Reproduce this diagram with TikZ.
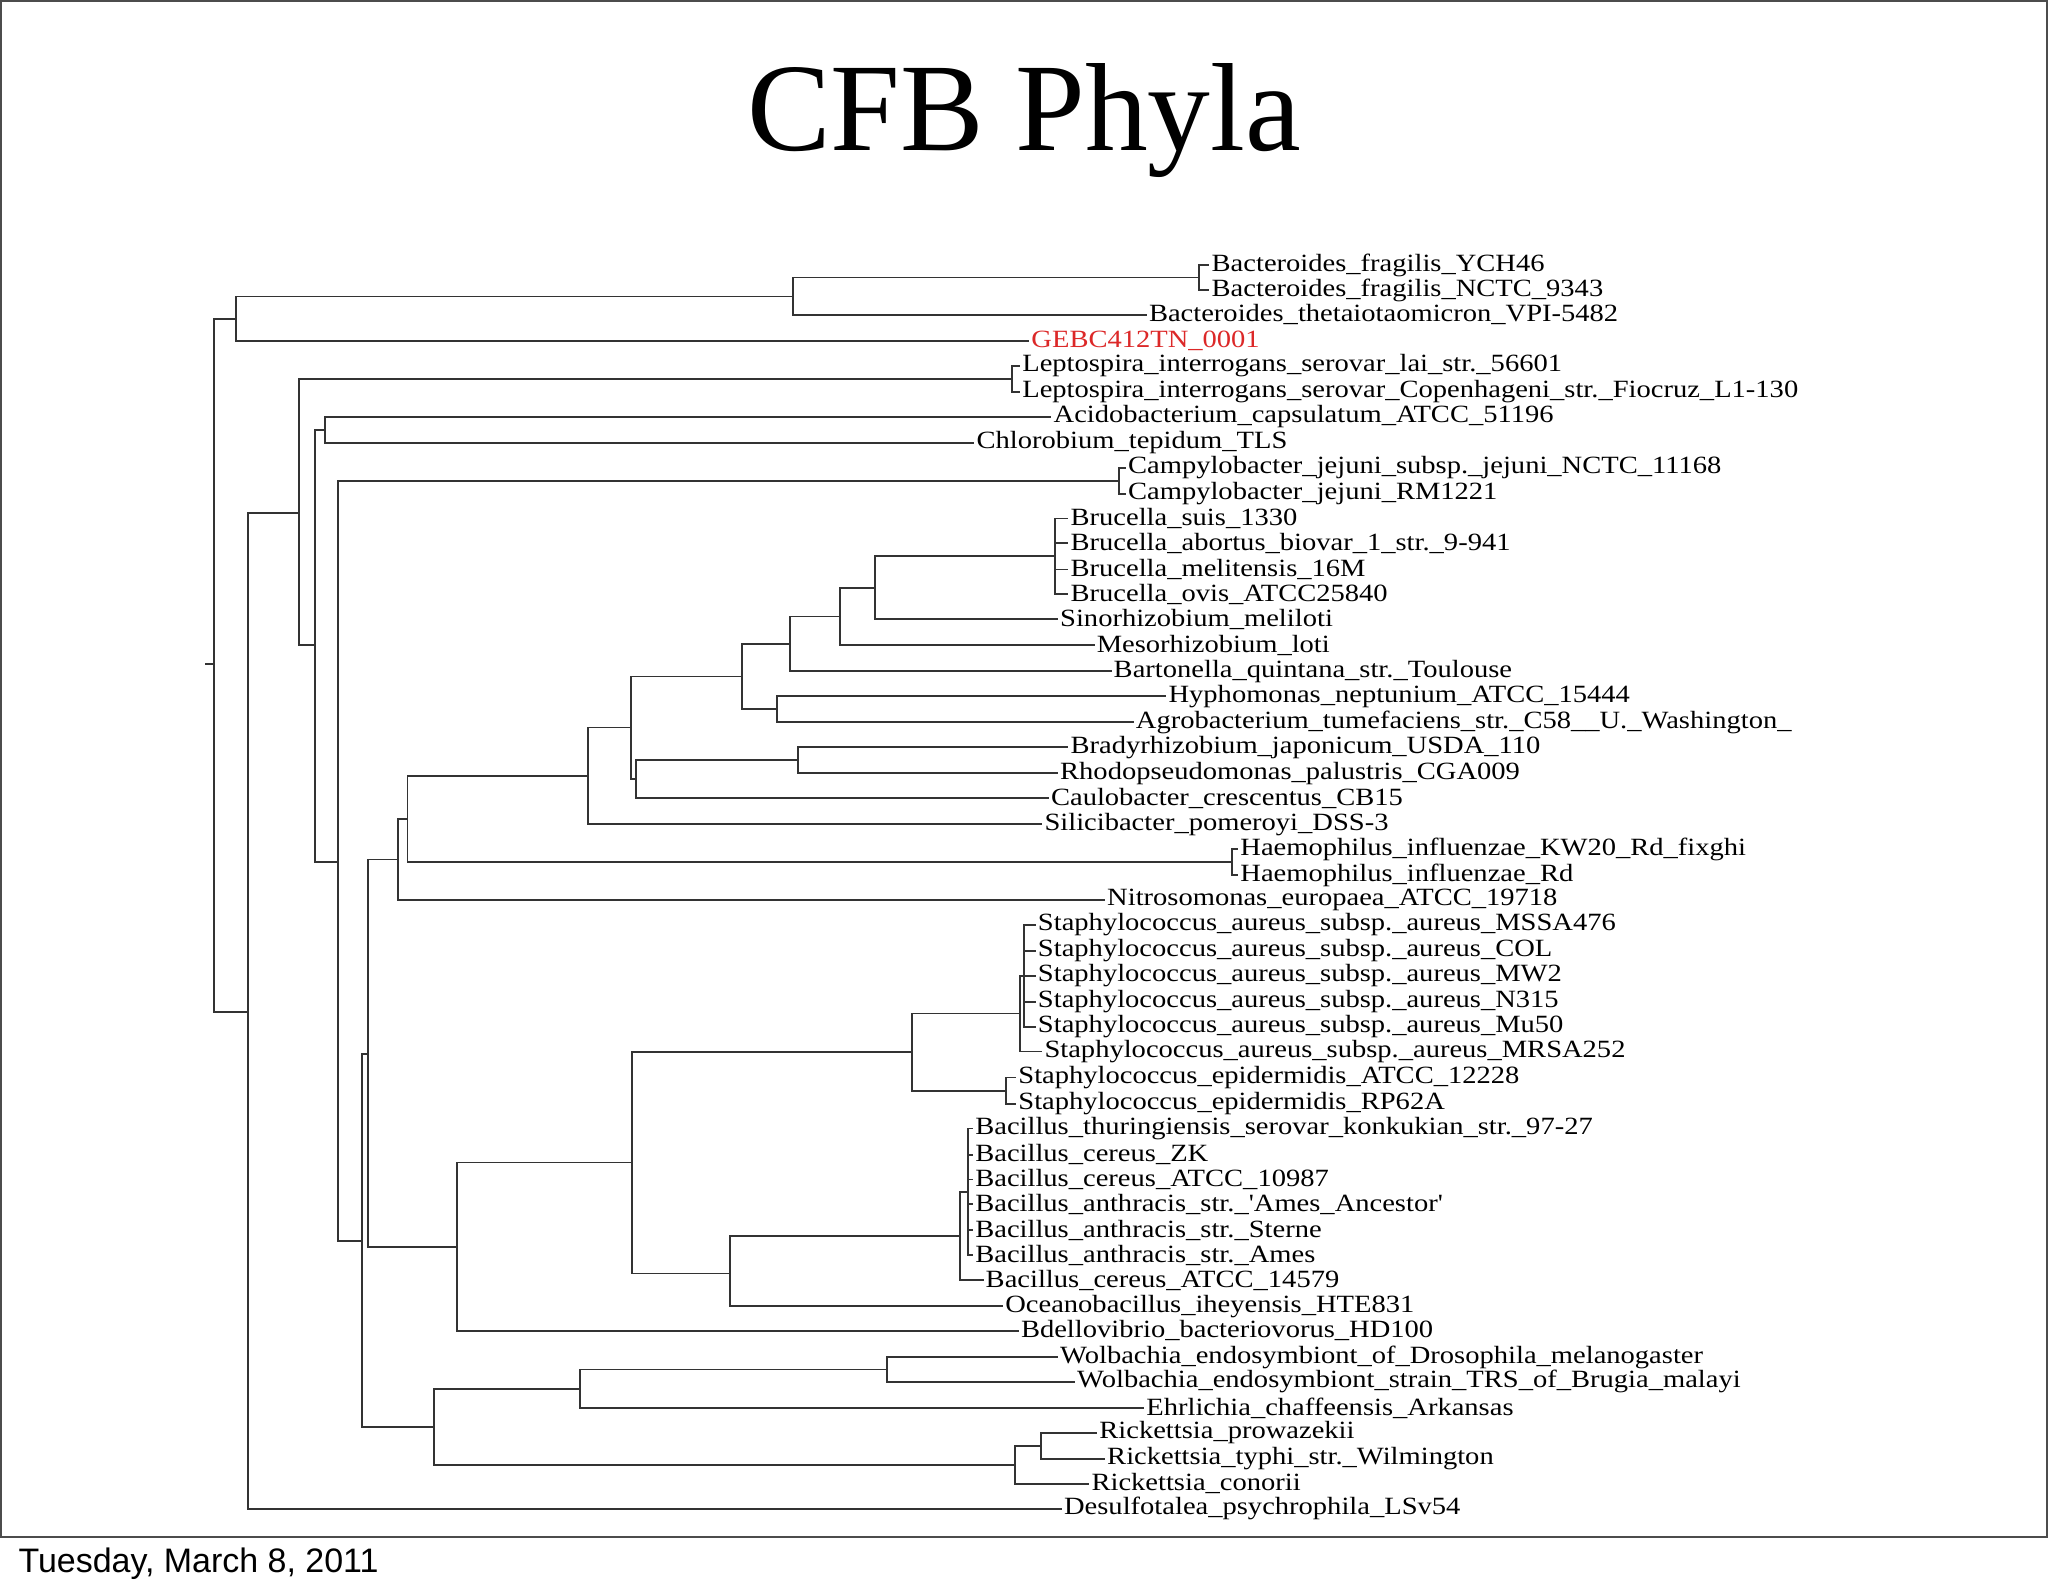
\documentclass[tikz,border=0pt]{standalone}
\usepackage{fontspec}
\setmainfont{Liberation Serif}
\newfontfamily\hel{Liberation Sans}
\newfontfamily\labf[FakeStretch=1.15]{Liberation Serif}
\newcommand{\labfont}{\labf\fontsize{19}{19}\selectfont}
\tikzset{
 lab/.style={anchor=west,inner sep=1.5pt,font=\labfont},
 br/.style={draw=black!80,line width=1.4pt},
}
\begin{document}
\begin{tikzpicture}[x=1pt,y=-1pt]
\useasboundingbox (0,0) rectangle (1568,1220);
\fill[white] (0,0) rectangle (1568,1220);
\draw[black!70,line width=1.5pt] (0.75,0.75) rectangle (1567,1177);
\node[font=\fontsize{96}{96}\selectfont] (title) at (784,92) {CFB Phyla};
\node[anchor=west,font=\hel\fontsize{26}{26}\selectfont,inner sep=0] (date) at (14,1197) {Tuesday, March 8, 2011};

% internal nodes
\coordinate (c164) at (164,508.5);
\coordinate (stub) at (157,508.5);
\coordinate (c181) at (181,244);
\coordinate (c607) at (607,227);
\coordinate (c918) at (918,212.5);
\coordinate (c190) at (190,774.5);
\coordinate (c229) at (229,392.5);
\coordinate (c775) at (775,290);
\coordinate (c241) at (241,494);
\coordinate (c249) at (249,329);
\coordinate (c259) at (259,660);
\coordinate (c857) at (857,368);
\coordinate (c277) at (277,950);
\coordinate (c282) at (282,807);
\coordinate (c305) at (305,658);
\coordinate (c312) at (312,627);
\coordinate (c943) at (943,660);
\coordinate (c450) at (450,594);
\coordinate (c483) at (483,557);
\coordinate (c568) at (568,518);
\coordinate (c605) at (605,493);
\coordinate (c643) at (643,472);
\coordinate (c670) at (670,450);
\coordinate (c808) at (808,426);
\coordinate (c595) at (595,543);
\coordinate (c487) at (487,596.5);
\coordinate (c611) at (611,582);
\coordinate (c350) at (350,954.5);
\coordinate (c484) at (484,890);
\coordinate (c698) at (698,805.5);
\coordinate (c781) at (781,776);
\coordinate (c784) at (784,747);
\coordinate (c770) at (770,835);
\coordinate (c559) at (559,975);
\coordinate (c735) at (735,946);
\coordinate (c741) at (741,912.5);
\coordinate (c332) at (332,1092.5);
\coordinate (c444) at (444,1063.5);
\coordinate (c679) at (679,1048.5);
\coordinate (c777) at (777,1121.5);
\coordinate (c797) at (797,1107);

% leaves
\node[lab] (L1) at (926,203) {Bacteroides\_fragilis\_YCH46};
\node[lab] (L2) at (926,222) {Bacteroides\_fragilis\_NCTC\_9343};
\node[lab] (L3) at (878,241) {Bacteroides\_thetaiotaomicron\_VPI-5482};
\node[lab,text={rgb,255:red,220;green,40;blue,40}] (L4) at (788,261) {GEBC412TN\_0001};
\node[lab] (L5) at (781,280) {Leptospira\_interrogans\_serovar\_lai\_str.\_56601};
\node[lab] (L6) at (781,300) {Leptospira\_interrogans\_serovar\_Copenhageni\_str.\_Fiocruz\_L1-130};
\node[lab] (L7) at (805,319) {Acidobacterium\_capsulatum\_ATCC\_51196};
\node[lab] (L8) at (746,339) {Chlorobium\_tepidum\_TLS};
\node[lab] (L9) at (862,358) {Campylobacter\_jejuni\_subsp.\_jejuni\_NCTC\_11168};
\node[lab] (L10) at (862,378) {Campylobacter\_jejuni\_RM1221};
\node[lab] (L11) at (818,397) {Brucella\_suis\_1330};
\node[lab] (L12) at (818,416) {Brucella\_abortus\_biovar\_1\_str.\_9-941};
\node[lab] (L13) at (818,436) {Brucella\_melitensis\_16M};
\node[lab] (L14) at (818,455) {Brucella\_ovis\_ATCC25840};
\node[lab] (L15) at (810,474) {Sinorhizobium\_meliloti};
\node[lab] (L16) at (838,494) {Mesorhizobium\_loti};
\node[lab] (L17) at (851,514) {Bartonella\_quintana\_str.\_Toulouse};
\node[lab] (L18) at (893,533) {Hyphomonas\_neptunium\_ATCC\_15444};
\node[lab] (L19) at (868,553) {Agrobacterium\_tumefaciens\_str.\_C58\_\_U.\_Washington\_};
\node[lab] (L20) at (818,572) {Bradyrhizobium\_japonicum\_USDA\_110};
\node[lab] (L21) at (810,592) {Rhodopseudomonas\_palustris\_CGA009};
\node[lab] (L22) at (803,611) {Caulobacter\_crescentus\_CB15};
\node[lab] (L23) at (798,631) {Silicibacter\_pomeroyi\_DSS-3};
\node[lab] (L24) at (948,650) {Haemophilus\_influenzae\_KW20\_Rd\_fixghi};
\node[lab] (L25) at (948,670) {Haemophilus\_influenzae\_Rd};
\node[lab] (L26) at (846,689) {Nitrosomonas\_europaea\_ATCC\_19718};
\node[lab] (L27) at (793,708) {Staphylococcus\_aureus\_subsp.\_aureus\_MSSA476};
\node[lab] (L28) at (793,728) {Staphylococcus\_aureus\_subsp.\_aureus\_COL};
\node[lab] (L29) at (793,747) {Staphylococcus\_aureus\_subsp.\_aureus\_MW2};
\node[lab] (L30) at (793,767) {Staphylococcus\_aureus\_subsp.\_aureus\_N315};
\node[lab] (L31) at (793,786) {Staphylococcus\_aureus\_subsp.\_aureus\_Mu50};
\node[lab] (L32) at (798,805) {Staphylococcus\_aureus\_subsp.\_aureus\_MRSA252};
\node[lab] (L33) at (778,825) {Staphylococcus\_epidermidis\_ATCC\_12228};
\node[lab] (L34) at (778,845) {Staphylococcus\_epidermidis\_RP62A};
\node[lab] (L35) at (745,864) {Bacillus\_thuringiensis\_serovar\_konkukian\_str.\_97-27};
\node[lab] (L36) at (745,884) {Bacillus\_cereus\_ZK};
\node[lab] (L37) at (745,903) {Bacillus\_cereus\_ATCC\_10987};
\node[lab] (L38) at (745,922) {Bacillus\_anthracis\_str.\_'Ames\_Ancestor'};
\node[lab] (L39) at (745,942) {Bacillus\_anthracis\_str.\_Sterne};
\node[lab] (L40) at (745,961) {Bacillus\_anthracis\_str.\_Ames};
\node[lab] (L41) at (753,980) {Bacillus\_cereus\_ATCC\_14579};
\node[lab] (L42) at (768,1000) {Oceanobacillus\_iheyensis\_HTE831};
\node[lab] (L43) at (780,1019) {Bdellovibrio\_bacteriovorus\_HD100};
\node[lab] (L44) at (810,1039) {Wolbachia\_endosymbiont\_of\_Drosophila\_melanogaster};
\node[lab] (L45) at (823,1058) {Wolbachia\_endosymbiont\_strain\_TRS\_of\_Brugia\_malayi};
\node[lab] (L46) at (876,1078) {Ehrlichia\_chaffeensis\_Arkansas};
\node[lab] (L47) at (840,1097) {Rickettsia\_prowazekii};
\node[lab] (L48) at (846,1117) {Rickettsia\_typhi\_str.\_Wilmington};
\node[lab] (L49) at (834,1136) {Rickettsia\_conorii};
\node[lab] (L50) at (813,1155) {Desulfotalea\_psychrophila\_LSv54};

% branches
\draw[br] (stub) -- (c164);
\foreach \p/\c in {c164/c181,c164/c190,c181/c607,c181/L4.west,c607/c918,c607/L3.west,
 c918/L1.west,c918/L2.west,
 c190/c229,c190/L50.west,c229/c775,c229/c241,c775/L5.west,c775/L6.west,
 c241/c249,c241/c259,c249/L7.west,c249/L8.west,c259/c857,c259/c277,c857/L9.west,c857/L10.west,
 c277/c282,c277/c332,c282/c305,c282/c350,c305/c312,c305/L26.west,c312/c450,c312/c943,
 c943/L24.west,c943/L25.west,c450/c483,c450/L23.west,c483/c568,c483/c487,
 c568/c605,c568/c595,c605/c643,c605/L17.west,c643/c670,c643/L16.west,c670/c808,c670/L15.west,
 c808/L11.west,c808/L12.west,c808/L13.west,c808/L14.west,c595/L18.west,c595/L19.west,
 c487/c611,c487/L22.west,c611/L20.west,c611/L21.west,
 c350/c484,c350/L43.west,c484/c698,c484/c559,c698/c781,c698/c770,c781/c784,c781/L32.west,
 c784/L27.west,c784/L28.west,c784/L29.west,c784/L30.west,c784/L31.west,c770/L33.west,c770/L34.west,
 c559/c735,c559/L42.west,c735/c741,c735/L41.west,
 c741/L35.west,c741/L36.west,c741/L37.west,c741/L38.west,c741/L39.west,c741/L40.west,
 c332/c444,c332/c777,c444/c679,c444/L46.west,c679/L44.west,c679/L45.west,
 c777/c797,c777/L49.west,c797/L47.west,c797/L48.west}
 {\draw[br] (\p) |- (\c);}
\end{tikzpicture}
\end{document}
